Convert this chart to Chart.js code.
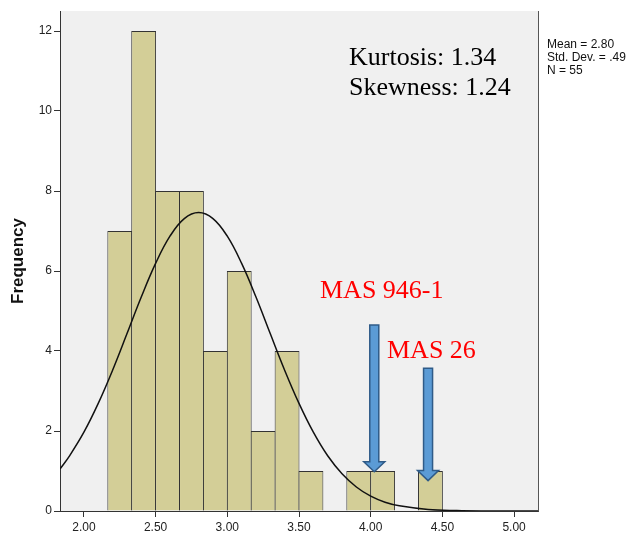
<!DOCTYPE html>
<html>
<head>
<meta charset="utf-8">
<script src="https://cdn.jsdelivr.net/npm/chart.js@4.4.1/dist/chart.umd.min.js"></script>
<style>
  html, body { margin: 0; padding: 0; background: #fff; }
  #wrap { width: 629px; height: 542px; }
</style>
</head>
<body>
<div id="wrap"><canvas id="histChart" width="629" height="542"></canvas></div>
<script>
// histogram bins (width 1/6) and their counts
const binCenters = [2.25, 2.4167, 2.5833, 2.75, 2.9167, 3.0833, 3.25, 3.4167, 3.5833, 3.75, 3.9167, 4.0833, 4.25, 4.4167];
const counts = [7, 12, 8, 8, 4, 6, 2, 4, 1, 0, 1, 1, 0, 1];

// fitted normal curve, read along the x range
const curveX = [1.8333, 1.9, 2.0, 2.1, 2.2, 2.3, 2.4, 2.5, 2.6, 2.7, 2.8, 2.9, 3.0, 3.1, 3.2, 3.3, 3.4, 3.5, 3.6, 3.7, 3.8, 3.9, 4.0, 4.1, 4.2, 4.4, 4.6, 4.8, 5.0, 5.1667];
const curveY = [1.05, 1.38, 1.97, 2.69, 3.52, 4.43, 5.35, 6.19, 6.87, 7.31, 7.46, 7.31, 6.87, 6.19, 5.35, 4.43, 3.52, 2.69, 1.97, 1.38, 0.93, 0.60, 0.37, 0.22, 0.13, 0.04, 0.01, 0.0, 0.0, 0.0];

const xTicks = [2.0, 2.5, 3.0, 3.5, 4.0, 4.5, 5.0];
const yTicks = [0, 2, 4, 6, 8, 10, 12];

const statLines = ['Mean = 2.80', 'Std. Dev. = .49', 'N = 55'];
const shapeLines = ['Kurtosis: 1.34', 'Skewness: 1.24'];

// highlighted samples: arrow x, arrow top and tip (frequency units)
const markerNames = ['MAS 946-1', 'MAS 26'];
const markerX = [4.025, 4.40];
const markerTop = [4.65, 3.57];
const markerTip = [0.98, 0.76];

const sans = "Arial, 'Liberation Sans', sans-serif";
const serif = "'Times New Roman', 'Liberation Serif', serif";

function drawArrow(ctx, x, yTop, yTip) {
    const shaft = 4.5, head = 10.5, headLen = 10;
    ctx.beginPath();
    ctx.moveTo(x - shaft, yTop);
    ctx.lineTo(x + shaft, yTop);
    ctx.lineTo(x + shaft, yTip - headLen);
    ctx.lineTo(x + head, yTip - headLen);
    ctx.lineTo(x, yTip);
    ctx.lineTo(x - head, yTip - headLen);
    ctx.lineTo(x - shaft, yTip - headLen);
    ctx.closePath();
    ctx.fillStyle = '#5b9bd5';
    ctx.fill();
    ctx.strokeStyle = '#2f5b88';
    ctx.lineWidth = 1.5;
    ctx.stroke();
}

const decorations = {
    id: 'decorations',
    beforeDraw(chart) {
        const { ctx, chartArea: a } = chart;
        ctx.save();
        ctx.fillStyle = '#f0f0f0';
        ctx.fillRect(a.left, a.top, a.right - a.left, a.bottom - a.top);
        ctx.restore();
    },
    afterDraw(chart) {
        const { ctx, chartArea: a, scales } = chart;
        ctx.save();

        // right frame line
        ctx.strokeStyle = '#555';
        ctx.lineWidth = 1;
        ctx.beginPath();
        ctx.moveTo(a.right + 0.5, a.top);
        ctx.lineTo(a.right + 0.5, a.bottom + 0.5);
        ctx.stroke();

        // arrows pointing at the two outliers
        markerX.forEach((v, i) => {
            drawArrow(ctx, scales.x.getPixelForValue(v),
                scales.y.getPixelForValue(markerTop[i]),
                scales.y.getPixelForValue(markerTip[i]));
        });

        ctx.fillStyle = '#ff0000';
        ctx.font = '26px ' + serif;
        ctx.textBaseline = 'alphabetic';
        ctx.fillText(markerNames[0], 320, 298);
        ctx.fillText(markerNames[1], 387, 358);

        ctx.fillStyle = '#000';
        ctx.font = '26px ' + serif;
        shapeLines.forEach((t, i) => ctx.fillText(t, 349, 65 + i * 30));

        ctx.font = '12px ' + sans;
        ctx.fillStyle = '#111';
        statLines.forEach((t, i) => ctx.fillText(t, 547, 48 + i * 13));

        ctx.restore();
    }
};

const ctx = document.getElementById('histChart').getContext('2d');
new Chart(ctx, {
    data: {
        datasets: [
            {
                type: 'line',
                data: curveX.map((x, i) => ({ x, y: curveY[i] })),
                borderColor: '#111',
                borderWidth: 1.5,
                pointRadius: 0,
                tension: 0.4,
                fill: false,
                order: 0,
            },
            {
                type: 'bar',
                data: binCenters.map((x, i) => ({ x, y: counts[i] })),
                backgroundColor: '#d3ce97',
                borderColor: '#333',
                borderWidth: 1,
                barPercentage: 1.04,
                categoryPercentage: 1,
                order: 1,
            },
        ],
    },
    options: {
        responsive: false,
        animation: false,
        devicePixelRatio: 1,
        layout: { padding: { left: 0, right: 91, top: 11, bottom: 0 } },
        plugins: {
            legend: { display: false },
            tooltip: { enabled: false },
        },
        scales: {
            x: {
                type: 'linear',
                offset: false,
                min: 1.8333,
                max: 5.1667,
                afterBuildTicks: (s) => { s.ticks = xTicks.map(v => ({ value: v })); },
                afterFit: (s) => { s.height = 31; },
                grid: { offset: false, drawOnChartArea: false, drawTicks: true, tickLength: 6, tickColor: '#333' },
                border: { display: true, color: '#333', width: 1 },
                ticks: {
                    padding: 3,
                    color: '#222',
                    font: { family: sans, size: 12 },
                    maxRotation: 0,
                    callback: (v) => Number(v).toFixed(2),
                },
            },
            y: {
                min: 0,
                max: 12.5,
                afterBuildTicks: (s) => { s.ticks = yTicks.map(v => ({ value: v })); },
                afterFit: (s) => { s.width = 60; },
                grid: { drawOnChartArea: false, drawTicks: true, tickLength: 6, tickColor: '#333' },
                border: { display: true, color: '#333', width: 1 },
                ticks: {
                    padding: 2,
                    color: '#222',
                    font: { family: sans, size: 12 },
                },
                title: {
                    display: true,
                    text: 'Frequency',
                    color: '#111',
                    font: { family: sans, size: 17, weight: 'bold' },
                    padding: { top: 8, bottom: 0 },
                },
            },
        },
    },
    plugins: [decorations],
});
</script>
</body>
</html>
